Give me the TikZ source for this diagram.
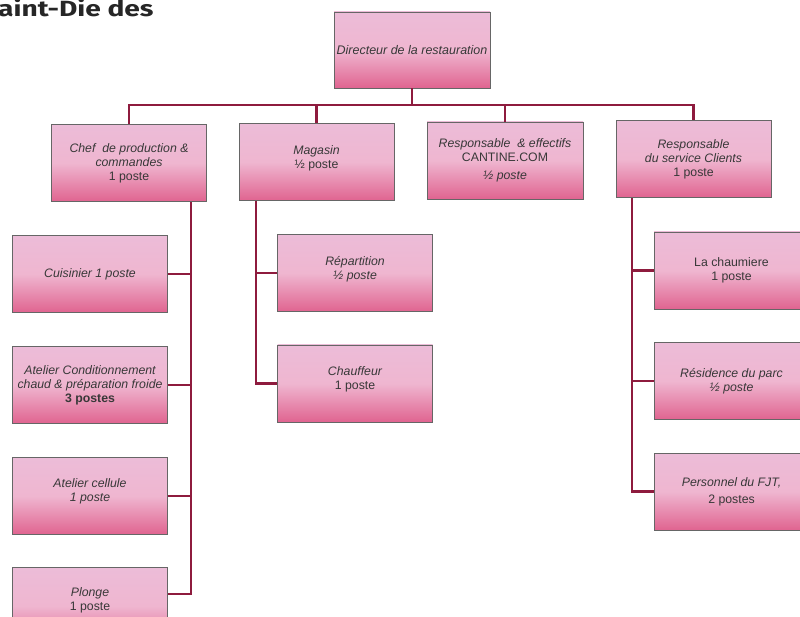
\documentclass[tikz,border=0pt]{standalone}
\usepackage{fontspec}
\setmainfont{Liberation Sans}
\newfontfamily\titlefont[FakeStretch=1.28]{Fira Sans}
\definecolor{pbtop}{HTML}{ECBCD8}
\definecolor{pbmid}{HTML}{EFB6D0}
\definecolor{pbbot}{HTML}{E06490}
\definecolor{linecol}{HTML}{8E1B3E}
\definecolor{txtcol}{HTML}{383838}
\begin{document}
\begin{tikzpicture}[x=1pt,y=-1pt,
  box/.style={draw=black!60, line width=0.6pt, top color=pbtop, bottom color=pbbot, middle color=pbmid,
    minimum width=155pt, minimum height=77pt, align=center, inner sep=2pt,
    font=\fontsize{12.3}{14}\selectfont\itshape, text=txtcol},
  conn/.style={draw=linecol, line width=2.4pt}]
\useasboundingbox (0,0) rectangle (800,617);
\begin{scope}
\clip (0,0) rectangle (800,617);
\node[anchor=base west, inner sep=0, text=black!85, font=\titlefont\bfseries\fontsize{22}{22}\selectfont] (title) at (-2,17) {aint-Die des};

\node[box, minimum width=156pt, minimum height=76pt, font=\fontsize{12.5}{14}\selectfont\itshape] (dir) at (412,50) {Directeur de la restauration};

\node[box] (chef) at (129,163) {Chef\ \ de production \&\\commandes\\\upshape 1 poste};
\node[box] (mag) at (316.5,162) {Magasin\\\upshape ½ poste\\[-4pt]\mbox{}};
\node[box, minimum width=156pt] (cant) at (505,160.5) {Responsable\ \ \& effectifs\\\upshape CANTINE.COM\\[4pt]½ poste};
\node[box] (cli) at (693.5,159) {Responsable\\du service Clients\\\upshape 1 poste};

\node[box] (cuis) at (90,274) {Cuisinier 1 poste};
\node[box] (atel) at (90,385) {Atelier Conditionnement\\chaud \& préparation froide\\\upshape\bfseries 3 postes};
\node[box] (cell) at (90,496) {Atelier cellule\\1 poste\\[-2pt]\mbox{}};
\node[box] (plonge) at (90,606) {Plonge\\\upshape 1 poste\\\mbox{}};

\node[box] (rep) at (355,273) {Répartition\\½ poste\\[-4pt]\mbox{}};
\node[box] (chauf) at (355,383.5) {Chauffeur\\\upshape 1 poste\\[-4pt]\mbox{}};

\node[box] (chaum) at (731.5,270.5) {\upshape La chaumiere\\\upshape 1 poste};
\node[box] (resid) at (731.5,381) {Résidence du parc\\½ poste};
\node[box] (fjt) at (731.5,491.5) {Personnel du FJT,\\[3pt]\upshape 2 postes};

% top bus
\coordinate (bus) at (412,105);
\draw[conn] (dir.south) -- (bus);
\draw[conn] (chef.north) |- (bus) -| (cli.north);
\draw[conn] (mag.north) -- (mag.north |- bus);
\draw[conn] (cant.north) -- (cant.north |- bus);

% chef spine
\coordinate (cs) at (191,0);
\coordinate (pj) at (167.5,594);
\draw[conn] (cs |- chef.south) |- (pj);
\draw[conn] (cuis.east) -- (cuis.east -| cs);
\draw[conn] (atel.east) -- (atel.east -| cs);
\draw[conn] (cell.east) -- (cell.east -| cs);

% magasin spine
\coordinate (ms) at (256,0);
\draw[conn] (ms |- mag.south) |- (chauf.west);
\draw[conn] (rep.west) -- (rep.west -| ms);

% clients spine
\coordinate (ks) at (632,0);
\draw[conn] (ks |- cli.south) |- (fjt.west);
\draw[conn] (chaum.west) -- (chaum.west -| ks);
\draw[conn] (resid.west) -- (resid.west -| ks);
\end{scope}
\end{tikzpicture}
\end{document}
